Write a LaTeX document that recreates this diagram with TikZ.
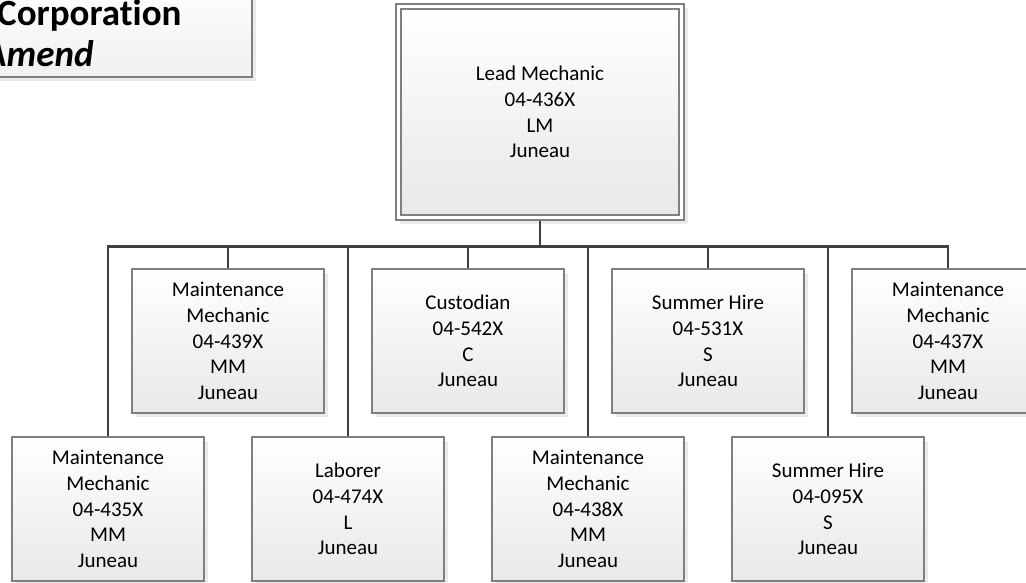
\documentclass[tikz,border=0pt]{standalone}
\usepackage{fontspec}
\setmainfont[Ligatures=NoCommon]{Carlito}
\usetikzlibrary{shadows}
\definecolor{connc}{HTML}{404040}
\definecolor{bordc}{HTML}{7F7F7F}
\definecolor{shadc}{HTML}{EAEAEA}
\tikzset{
  boxshadow/.style={drop shadow={shadow xshift=3.5pt, shadow yshift=-3.5pt, fill=shadc, opacity=1}},
  orgbox/.style={draw=bordc, line width=1.3pt, top color=white, bottom color=black!9,
    minimum width=192pt, minimum height=144pt, inner sep=0pt, align=center,
    font=\fontsize{21}{25.8}\selectfont, boxshadow},
  connline/.style={draw=connc, line width=2.8pt},
  titletext/.style={anchor=base west, inner sep=0pt, font=\fontsize{37}{44}\selectfont\bfseries}
}
\begin{document}
\begin{tikzpicture}[x=1pt,y=-1pt]
\useasboundingbox (0,0) rectangle (1026,582);
\clip (0,0) rectangle (1026,582);
\fill[white] (0,0) rectangle (1026,582);
% title box (cut off)
\node[draw=bordc, line width=1.3pt, top color=white, bottom color=black!6,
  minimum width=272pt, minimum height=97pt, inner sep=0pt, boxshadow] (title) at (116,28.5) {};
\node[titletext] (corp) at (-3,25) {Corporation};
\node[titletext, font=\fontsize{37}{44}\selectfont\bfseries\itshape] (amend) at (-16,66) {Amend};
% lead box
\node[draw=bordc, line width=1.3pt, fill=white, minimum width=288pt, minimum height=216pt,
  inner sep=0pt, boxshadow] (lead) at (540,112) {};
\node[draw=bordc, line width=1.3pt, top color=white, bottom color=black!9,
  minimum width=278pt, minimum height=206pt, inner sep=0pt, align=center,
  font=\fontsize{21}{25.8}\selectfont] (leadin) at (540,112)
  {Lead Mechanic\\04-436X\\LM\\Juneau};
% upper row
\node[orgbox] (mm439) at (228,341) {Maintenance\\Mechanic\\04-439X\\MM\\Juneau};
\node[orgbox] (cust) at (468,341) {Custodian\\04-542X\\C\\Juneau};
\node[orgbox] (sh531) at (708,341) {Summer Hire\\04-531X\\S\\Juneau};
\node[orgbox] (mm437) at (948,341) {Maintenance\\Mechanic\\04-437X\\MM\\Juneau};
% lower row
\node[orgbox] (mm435) at (108,509) {Maintenance\\Mechanic\\04-435X\\MM\\Juneau};
\node[orgbox] (lab) at (348,509) {Laborer\\04-474X\\L\\Juneau};
\node[orgbox] (mm438) at (588,509) {Maintenance\\Mechanic\\04-438X\\MM\\Juneau};
\node[orgbox] (sh095) at (828,509) {Summer Hire\\04-095X\\S\\Juneau};
% connectors
\foreach \c in {mm435,mm439,lab,cust,mm438,sh531,sh095,mm437}{
  \draw[connline] (lead.south) -- ++(0,25.5) -| (\c.north);
}
\end{tikzpicture}
\end{document}
